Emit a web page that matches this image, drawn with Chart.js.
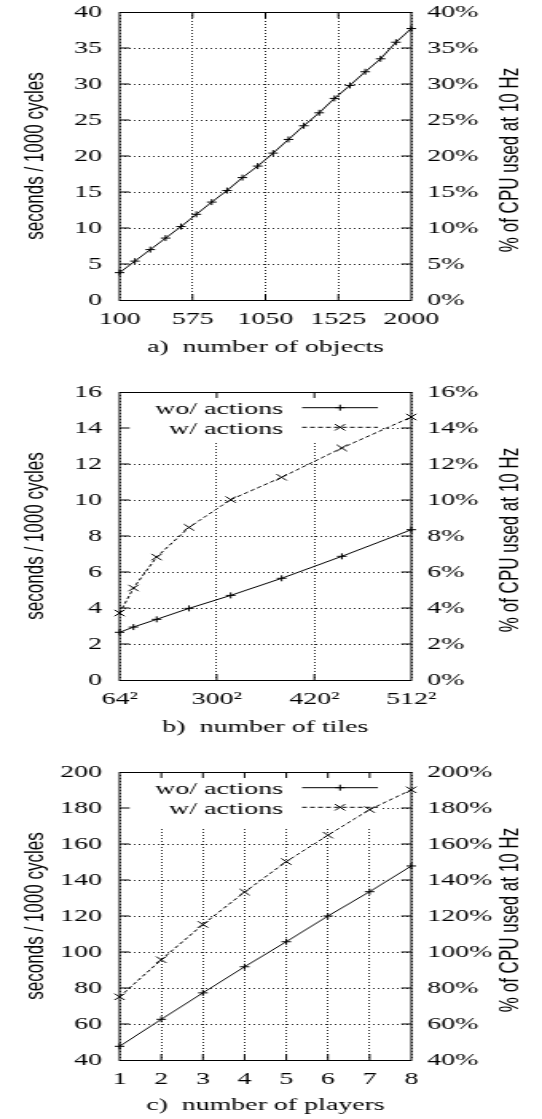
<!DOCTYPE html>
<html><head><meta charset="utf-8">
<script src="https://cdn.jsdelivr.net/npm/chart.js@4.4.0/dist/chart.umd.min.js"></script>
<style>
html,body{margin:0;padding:0;background:#fff;width:542px;height:1119px;overflow:hidden;}
.panel{position:absolute;left:0;}
canvas{display:block;}
</style></head><body>
<div class="panel" style="top:0"><canvas id="ca" width="340" height="380" style="width:542px;height:380px"></canvas></div>
<div class="panel" style="top:380px"><canvas id="cb" width="340" height="380" style="width:542px;height:380px"></canvas></div>
<div class="panel" style="top:760px"><canvas id="cc" width="340" height="359" style="width:542px;height:359px"></canvas></div>
<script>
// ---- data ----
const objectCounts = [100,200,300,400,500,600,700,800,900,1000,1100,1200,1300,1400,1500,1600,1700,1800,1900,2000];
const objectSeconds = [3.8,5.4,7.0,8.6,10.2,11.9,13.6,15.2,17.0,18.6,20.4,22.3,24.2,26.0,28.0,29.8,31.7,33.5,35.8,37.7];
const objectTicks = [100,575,1050,1525,2000];

const tileCounts = [4096,16384,36864,65536,102400,147456,200704,262144];
const tileSecondsWo = [2.65,2.94,3.37,3.98,4.70,5.65,6.87,8.35];
const tileSecondsW = [3.72,5.11,6.83,8.48,10.02,11.26,12.89,14.61];
const tileTickValues = [4096,90000,176400,262144];
const tileTickLabels = ['64²','300²','420²','512²'];

const playerCounts = [1,2,3,4,5,6,7,8];
const playerSecondsWo = [47.6,62.6,77.3,91.8,105.7,120.0,133.5,147.8];
const playerSecondsW = [75.1,95.7,115.3,133.3,150.2,164.9,179.1,190.1];

const seriesLabels = ['wo/ actions','w/ actions'];
const leftTitle = 'seconds / 1000 cycles';
const rightTitle = '% of CPU used at 10 Hz';
const xTitles = ['a)  number of objects','b)  number of tiles','c)  number of players'];

// ---- styling ----
const SERIF = "'Liberation Serif','Times New Roman',serif";
const SANS = "'Liberation Sans',Arial,sans-serif";
const tickFont = {family: SERIF, size: 17.5};
const GRID = 'rgba(0,0,0,0.85)';

const gnuplot = {
  id: 'gnuframe',
  beforeDatasetsDraw(chart, args, opts) {
    const a = chart.chartArea, ctx = chart.ctx;
    if (opts.legend) {
      ctx.save();
      ctx.fillStyle = '#fff';
      ctx.fillRect(a.left + 1, a.top + 1, 162, opts.boxBottom - a.top);
      ctx.restore();
    }
  },
  afterDatasetsDraw(chart, args, opts) {
    const a = chart.chartArea, ctx = chart.ctx;
    ctx.save();
    ctx.strokeStyle = '#000';
    ctx.lineWidth = 1;
    ctx.setLineDash([]);
    // inner tick marks
    const xs = chart.scales.x, ys = chart.scales.y;
    ctx.beginPath();
    xs.ticks.forEach(t => {
      const p = xs.getPixelForValue(t.value);
      if (p <= a.left + 1 || p >= a.right - 1) return;
      ctx.moveTo(p, a.bottom); ctx.lineTo(p, a.bottom - 6);
      ctx.moveTo(p, a.top); ctx.lineTo(p, a.top + 6);
    });
    ys.ticks.forEach(t => {
      const p = ys.getPixelForValue(t.value);
      if (p <= a.top + 1 || p >= a.bottom - 1) return;
      ctx.moveTo(a.left, p); ctx.lineTo(a.left + 6.3, p);
      ctx.moveTo(a.right, p); ctx.lineTo(a.right - 6.3, p);
    });
    ctx.stroke();
    // frame
    ctx.strokeRect(a.left, a.top + 0.5, a.right - a.left, a.bottom - a.top);
    // legend
    if (opts.legend) {
      chart.data.datasets.forEach((ds, i) => {
        const y = a.top + 15.7 + i * 19.6;
        ctx.font = `17.5px ${SERIF}`;
        ctx.fillStyle = '#000';
        ctx.textAlign = 'right';
        ctx.textBaseline = 'middle';
        ctx.fillText(ds.label, 177.5, y + 2);
        ctx.beginPath();
        ctx.setLineDash(ds.borderDash || []);
        ctx.moveTo(189.5, y); ctx.lineTo(237, y);
        ctx.stroke();
        ctx.setLineDash([]);
        Chart.helpers.drawPoint(ctx, {pointStyle: ds.pointStyle, radius: ds.pointRadius, borderWidth: 1, rotation: 0}, 213.3, y);
      });
    }
    // right axis title (reads bottom to top)
    ctx.translate(320.6, opts.rightTitleY);
    ctx.rotate(-Math.PI / 2);
    ctx.font = `17px ${SANS}`;
    ctx.fillStyle = '#000';
    ctx.textAlign = 'center';
    ctx.textBaseline = 'middle';
    ctx.fillText(rightTitle, 0, 0);
    ctx.restore();
  }
};

function series(xsArr, ysArr, label, dashed) {
  return {
    label,
    data: xsArr.map((x, i) => ({x, y: ysArr[i]})),
    borderColor: '#000',
    borderWidth: 1,
    borderDash: dashed ? [3, 2] : [],
    pointStyle: dashed ? 'crossRot' : 'cross',
    pointRadius: dashed ? 4.5 : 3,
    pointHoverRadius: dashed ? 4.5 : 3,
    pointBorderColor: '#000',
    pointBorderWidth: 1,
    fill: false,
    tension: 0,
    clip: false
  };
}

function makeChart(id, datasets, xOpts, yMin, yMax, yStep, titleIdx, titlePad, legendOpts) {
  const H = document.getElementById(id).height;
  const yCommon = {min: yMin, max: yMax};
  return new Chart(document.getElementById(id), {
    type: 'line',
    data: {datasets},
    options: {
      responsive: false,
      devicePixelRatio: 1,
      animation: false,
      events: [],
      layout: {padding: {top: 12, left: 0, right: 0, bottom: 0}},
      plugins: {
        legend: {display: false},
        tooltip: {enabled: false},
        gnuframe: Object.assign({rightTitleY: 160}, legendOpts)
      },
      scales: {
        x: Object.assign({
          type: 'linear',
          position: 'bottom',
          grid: {display: true, drawTicks: false, color: GRID, lineWidth: 1},
          border: {display: false, dash: [1, 2]},
          ticks: {font: tickFont, color: '#000', padding: 9, autoSkip: false, maxRotation: 0},
          title: {display: true, text: xTitles[titleIdx], font: {family: SERIF, size: 17.5}, color: '#000', padding: {top: 0, bottom: titlePad}},
          afterFit: s => { s.height = H - 300; s.paddingLeft = 0; s.paddingRight = 0; }
        }, xOpts),
        y: Object.assign({
          position: 'left',
          grid: {display: true, drawTicks: false, color: GRID, lineWidth: 1},
          border: {display: false, dash: [1, 2]},
          ticks: {stepSize: yStep, font: tickFont, color: '#000', padding: 11, autoSkip: false},
          title: {display: true, text: leftTitle, font: {family: SANS, size: 17}, color: '#000', padding: {top: 12.4, bottom: 0}},
          afterFit: s => { s.width = 75; s.paddingTop = 0; s.paddingBottom = 0; }
        }, yCommon),
        y2: Object.assign({
          position: 'right',
          grid: {display: false, drawTicks: false},
          border: {display: false},
          ticks: {stepSize: yStep, font: tickFont, color: '#000', padding: 10, autoSkip: false, callback: v => v + '%'},
          afterFit: s => { s.width = 82; s.paddingTop = 0; s.paddingBottom = 0; }
        }, yCommon)
      }
    },
    plugins: [gnuplot]
  });
}

// a) number of objects
const dsA = series(objectCounts, objectSeconds, seriesLabels[0], false);
makeChart('ca', [dsA], {
  min: 100, max: 2000,
  afterBuildTicks: s => { s.ticks = objectTicks.map(v => ({value: v})); },
  ticks: {font: tickFont, color: '#000', padding: 9, autoSkip: false, maxRotation: 0, callback: v => String(v)}
}, 0, 40, 5, 0, 21.8, {legend: false});

// b) number of tiles
makeChart('cb', [
  series(tileCounts, tileSecondsWo, seriesLabels[0], false),
  series(tileCounts, tileSecondsW, seriesLabels[1], true)
], {
  min: 4096, max: 262144,
  afterBuildTicks: s => { s.ticks = tileTickValues.map(v => ({value: v})); },
  ticks: {font: tickFont, color: '#000', padding: 9, autoSkip: false, maxRotation: 0,
    callback: v => { const k = tileTickValues.indexOf(v); return k >= 0 ? tileTickLabels[k] : ''; }}
}, 0, 16, 2, 1, 21.8, {legend: true, boxBottom: 60});

// c) number of players
makeChart('cc', [
  series(playerCounts, playerSecondsWo, seriesLabels[0], false),
  series(playerCounts, playerSecondsW, seriesLabels[1], true)
], {
  min: 1, max: 8,
  ticks: {stepSize: 1, font: tickFont, color: '#000', padding: 9, autoSkip: false, maxRotation: 0}
}, 40, 200, 20, 2, 2.8, {legend: true, boxBottom: 66});
</script>
</body></html>
